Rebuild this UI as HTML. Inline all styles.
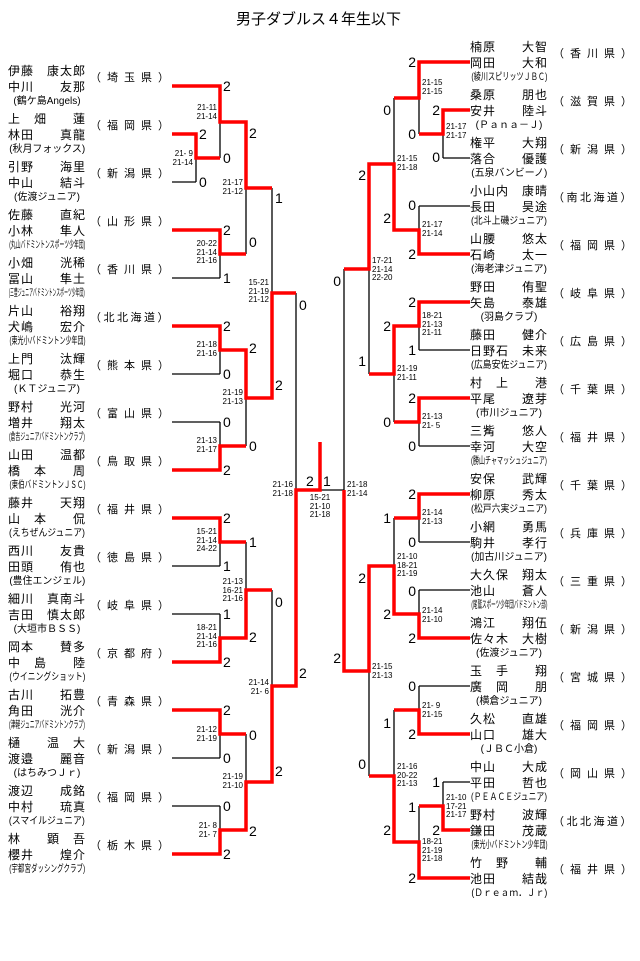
<!DOCTYPE html>
<html><head><meta charset="utf-8">
<style>
*{margin:0;padding:0;box-sizing:border-box}
body{width:640px;height:961px;background:#fff;position:relative;overflow:hidden;font-family:"Liberation Sans","Noto Sans CJK JP",sans-serif;color:#000}
svg{position:absolute;left:0;top:0}
.ttl{position:absolute;left:236px;top:10px;font-size:15px;line-height:20px;white-space:nowrap}
.e{position:absolute;width:78px}
.n{height:16px;line-height:16px;font-size:12px;letter-spacing:1px;white-space:nowrap}
.c{height:14px;line-height:14px;font-size:10px;display:flex;justify-content:center;white-space:nowrap;width:78px}
.c span{display:inline-block;transform-origin:center}
.p{position:absolute;top:8px;height:14px;line-height:14px;font-size:11px;white-space:nowrap;letter-spacing:6px}
.p.w{letter-spacing:2.5px}
.L .p{left:82px}
.R .p{left:83px}
.s{position:absolute;font-size:14px;line-height:14px;width:10px}
.sl{text-align:left}
.sr{text-align:right}
.t{position:absolute;font-size:8px;line-height:8.5px;white-space:nowrap;width:40px}
.tl{text-align:right}
.tr{text-align:left}
</style></head><body>
<div class="ttl">男子ダブルス４年生以下</div>
<svg width="640" height="961" viewBox="0 0 640 961">
<g stroke="#000" stroke-width="1.3" fill="none">
<path d="M196 134V182M220 86V158M220 230V278M246 122V254M220 326V374M220 422V470M246 350V446M272 188V398M220 518V566M220 614V662M246 542V638M220 710V758M220 806V854M246 734V830M272 590V782M296 293V686"/>
<path d="M443 110V158M419 62V134M419 206V254M394 98V230M419 302V350M419 398V446M394 326V422M369 164V374M419 494V542M419 590V638M394 518V614M419 686V734M443 782V830M419 806V878M394 710V842M369 566V776M344 269V671"/>
<path d="M172 182H196M172 278H220M172 374H220M172 422H220M172 566H220M172 614H220M172 758H220M172 806H220"/>
<path d="M443 158H470M419 206H470M419 350H470M419 446H470M419 542H470M419 590H470M419 686H470M443 782H470M320 490H344"/>
</g>
<g stroke="#ff0000" stroke-width="3.5" fill="none" stroke-linejoin="miter" stroke-linecap="butt">
<path d="M172 86H220V122H246V188H272"/>
<path d="M172 134H196V158H220"/>
<path d="M172 230H220V254H246"/>
<path d="M172 326H220V350H246V398H272V293H296"/>
<path d="M172 470H220V446H246"/>
<path d="M172 518H220V542H246"/>
<path d="M172 662H220V638H246V590H272"/>
<path d="M172 710H220V734H246"/>
<path d="M172 854H220V830H246V782H272V686H296V490H320V442"/>
<path d="M470 62H419V98H394"/>
<path d="M470 110H443V134H419"/>
<path d="M470 254H419V230H394V164H369V269H344"/>
<path d="M470 302H419V326H394V374H369"/>
<path d="M470 398H419V422H394"/>
<path d="M470 494H419V518H394"/>
<path d="M470 638H419V614H394V566H369V671H344V490"/>
<path d="M470 734H419V710H394"/>
<path d="M470 830H443V806H419"/>
<path d="M470 878H419V842H394V776H369"/>
</g>
</svg>

<!-- Left entries -->
<div class="e L" style="left:8px;top:63px"><div class="n">伊藤　康太郎</div><div class="n">中川　　友那</div><div class="c"><span>(鶴ケ島Angels)</span></div><div class="p">（埼玉県）</div></div>
<div class="e L" style="left:8px;top:111px"><div class="n">上　畑　　蓮</div><div class="n">林田　　真龍</div><div class="c"><span>(秋月フォックス)</span></div><div class="p">（福岡県）</div></div>
<div class="e L" style="left:8px;top:159px"><div class="n">引野　　海里</div><div class="n">中山　　結斗</div><div class="c"><span>(佐渡ジュニア)</span></div><div class="p">（新潟県）</div></div>
<div class="e L" style="left:8px;top:207px"><div class="n">佐藤　　直紀</div><div class="n">小林　　隼人</div><div class="c"><span>(丸山バドミントンスポーツ少年団)</span></div><div class="p">（山形県）</div></div>
<div class="e L" style="left:8px;top:255px"><div class="n">小畑　　洸稀</div><div class="n">冨山　　隼土</div><div class="c"><span>(三豊ジュニアバドミントンスポーツ少年団)</span></div><div class="p">（香川県）</div></div>
<div class="e L" style="left:8px;top:303px"><div class="n">片山　　裕翔</div><div class="n">犬嶋　　宏介</div><div class="c"><span>(東光小バドミントン少年団)</span></div><div class="p w">（北北海道）</div></div>
<div class="e L" style="left:8px;top:351px"><div class="n">上門　　汰輝</div><div class="n">堀口　　恭生</div><div class="c"><span>(ＫＴジュニア)</span></div><div class="p">（熊本県）</div></div>
<div class="e L" style="left:8px;top:399px"><div class="n">野村　　光河</div><div class="n">増井　　翔太</div><div class="c"><span>(倉吉ジュニアバドミントンクラブ)</span></div><div class="p">（富山県）</div></div>
<div class="e L" style="left:8px;top:447px"><div class="n">山田　　温都</div><div class="n">橋　本　　周</div><div class="c"><span>(東伯バドミントンＪＳＣ)</span></div><div class="p">（鳥取県）</div></div>
<div class="e L" style="left:8px;top:495px"><div class="n">藤井　　天翔</div><div class="n">山　本　　侃</div><div class="c"><span>(えちぜんジュニア)</span></div><div class="p">（福井県）</div></div>
<div class="e L" style="left:8px;top:543px"><div class="n">西川　　友貴</div><div class="n">田頭　　侑也</div><div class="c"><span>(豊住エンジェル)</span></div><div class="p">（徳島県）</div></div>
<div class="e L" style="left:8px;top:591px"><div class="n">細川　真南斗</div><div class="n">吉田　慎太郎</div><div class="c"><span>(大垣市ＢＳＳ)</span></div><div class="p">（岐阜県）</div></div>
<div class="e L" style="left:8px;top:639px"><div class="n">岡本　　賛多</div><div class="n">中　島　　陸</div><div class="c"><span>(ウイニングショット)</span></div><div class="p">（京都府）</div></div>
<div class="e L" style="left:8px;top:687px"><div class="n">古川　　拓豊</div><div class="n">角田　　洸介</div><div class="c"><span>(津軽ジュニアバドミントンクラブ)</span></div><div class="p">（青森県）</div></div>
<div class="e L" style="left:8px;top:735px"><div class="n">樋　　温　大</div><div class="n">渡邉　　麗音</div><div class="c"><span>(はちみつＪｒ)</span></div><div class="p">（新潟県）</div></div>
<div class="e L" style="left:8px;top:783px"><div class="n">渡辺　　成銘</div><div class="n">中村　　琉真</div><div class="c"><span>(スマイルジュニア)</span></div><div class="p">（福岡県）</div></div>
<div class="e L" style="left:8px;top:831px"><div class="n">林　　顕　吾</div><div class="n">櫻井　　煌介</div><div class="c"><span>(宇都宮ダッシングクラブ)</span></div><div class="p">（栃木県）</div></div>

<!-- Right entries -->
<div class="e R" style="left:470px;top:39px"><div class="n">楠原　　大智</div><div class="n">岡田　　大和</div><div class="c"><span>(綾川スピリッツＪＢＣ)</span></div><div class="p">（香川県）</div></div>
<div class="e R" style="left:470px;top:87px"><div class="n">桑原　　朋也</div><div class="n">安井　　陸斗</div><div class="c"><span>(Ｐａｎａ－Ｊ)</span></div><div class="p">（滋賀県）</div></div>
<div class="e R" style="left:470px;top:135px"><div class="n">権平　　大翔</div><div class="n">落合　　優護</div><div class="c"><span>(五泉バンビーノ)</span></div><div class="p">（新潟県）</div></div>
<div class="e R" style="left:470px;top:183px"><div class="n">小山内　康晴</div><div class="n">長田　　昊途</div><div class="c"><span>(北斗上磯ジュニア)</span></div><div class="p w">（南北海道）</div></div>
<div class="e R" style="left:470px;top:231px"><div class="n">山腰　　悠太</div><div class="n">石崎　　太一</div><div class="c"><span>(海老津ジュニア)</span></div><div class="p">（福岡県）</div></div>
<div class="e R" style="left:470px;top:279px"><div class="n">野田　　侑聖</div><div class="n">矢島　　泰雄</div><div class="c"><span>(羽島クラブ)</span></div><div class="p">（岐阜県）</div></div>
<div class="e R" style="left:470px;top:327px"><div class="n">藤田　　健介</div><div class="n">日野石　未来</div><div class="c"><span>(広島安佐ジュニア)</span></div><div class="p">（広島県）</div></div>
<div class="e R" style="left:470px;top:375px"><div class="n">村　上　　港</div><div class="n">平尾　　遼芽</div><div class="c"><span>(市川ジュニア)</span></div><div class="p">（千葉県）</div></div>
<div class="e R" style="left:470px;top:423px"><div class="n">三觜　　悠人</div><div class="n">幸河　　大空</div><div class="c"><span>(勝山チャマッシュジュニア)</span></div><div class="p">（福井県）</div></div>
<div class="e R" style="left:470px;top:471px"><div class="n">安保　　武輝</div><div class="n">柳原　　秀太</div><div class="c"><span>(松戸六実ジュニア)</span></div><div class="p">（千葉県）</div></div>
<div class="e R" style="left:470px;top:519px"><div class="n">小網　　勇馬</div><div class="n">駒井　　孝行</div><div class="c"><span>(加古川ジュニア)</span></div><div class="p">（兵庫県）</div></div>
<div class="e R" style="left:470px;top:567px"><div class="n">大久保　翔太</div><div class="n">池山　　蒼人</div><div class="c"><span>(尾鷲スポーツ少年団バドミントン部)</span></div><div class="p">（三重県）</div></div>
<div class="e R" style="left:470px;top:615px"><div class="n">鴻江　　翔伍</div><div class="n">佐々木　大樹</div><div class="c"><span>(佐渡ジュニア)</span></div><div class="p">（新潟県）</div></div>
<div class="e R" style="left:470px;top:663px"><div class="n">玉　手　　翔</div><div class="n">廣　岡　　朋</div><div class="c"><span>(横倉ジュニア)</span></div><div class="p">（宮城県）</div></div>
<div class="e R" style="left:470px;top:711px"><div class="n">久松　　直雄</div><div class="n">山口　　雄大</div><div class="c"><span>(ＪＢＣ小倉)</span></div><div class="p">（福岡県）</div></div>
<div class="e R" style="left:470px;top:759px"><div class="n">中山　　大成</div><div class="n">平田　　哲也</div><div class="c"><span>(ＰＥＡＣＥジュニア)</span></div><div class="p">（岡山県）</div></div>
<div class="e R" style="left:470px;top:807px"><div class="n">野村　　波輝</div><div class="n">鎌田　　茂蔵</div><div class="c"><span>(東光小バドミントン少年団)</span></div><div class="p w">（北北海道）</div></div>
<div class="e R" style="left:470px;top:855px"><div class="n">竹　野　　輔</div><div class="n">池田　　結哉</div><div class="c"><span>(Ｄｒｅａｍ．Ｊｒ)</span></div><div class="p">（福井県）</div></div>

<!-- Left labels -->
<div class="s sl" style="left:199px;top:127px">2</div><div class="s sl" style="left:199px;top:175px">0</div>
<div class="s sl" style="left:223px;top:79px">2</div><div class="s sl" style="left:223px;top:151px">0</div>
<div class="s sl" style="left:223px;top:223px">2</div><div class="s sl" style="left:223px;top:271px">1</div>
<div class="s sl" style="left:249px;top:126px">2</div><div class="s sl" style="left:249px;top:235px">0</div>
<div class="s sl" style="left:223px;top:319px">2</div><div class="s sl" style="left:223px;top:367px">0</div>
<div class="s sl" style="left:223px;top:415px">0</div><div class="s sl" style="left:223px;top:463px">2</div>
<div class="s sl" style="left:249px;top:341px">2</div><div class="s sl" style="left:249px;top:439px">0</div>
<div class="s sl" style="left:275px;top:191px">1</div><div class="s sl" style="left:275px;top:378px">2</div>
<div class="s sl" style="left:223px;top:511px">2</div><div class="s sl" style="left:223px;top:559px">1</div>
<div class="s sl" style="left:223px;top:607px">1</div><div class="s sl" style="left:223px;top:655px">2</div>
<div class="s sl" style="left:249px;top:535px">1</div><div class="s sl" style="left:249px;top:630px">2</div>
<div class="s sl" style="left:223px;top:703px">2</div><div class="s sl" style="left:223px;top:751px">0</div>
<div class="s sl" style="left:223px;top:799px">0</div><div class="s sl" style="left:223px;top:847px">2</div>
<div class="s sl" style="left:249px;top:728px">0</div><div class="s sl" style="left:249px;top:824px">2</div>
<div class="s sl" style="left:275px;top:595px">0</div><div class="s sl" style="left:275px;top:764px">2</div>
<div class="s sl" style="left:299px;top:298px">0</div><div class="s sl" style="left:299px;top:666px">2</div>
<div class="s sl" style="left:306px;top:474px">2</div><div class="s sl" style="left:323px;top:474px">1</div>

<!-- Right labels -->
<div class="s sr" style="left:430px;top:103px">2</div><div class="s sr" style="left:430px;top:150px">0</div>
<div class="s sr" style="left:406px;top:55px">2</div><div class="s sr" style="left:406px;top:127px">0</div>
<div class="s sr" style="left:406px;top:198px">0</div><div class="s sr" style="left:406px;top:247px">2</div>
<div class="s sr" style="left:381px;top:103px">0</div><div class="s sr" style="left:381px;top:211px">2</div>
<div class="s sr" style="left:406px;top:295px">2</div><div class="s sr" style="left:406px;top:343px">1</div>
<div class="s sr" style="left:406px;top:391px">2</div><div class="s sr" style="left:406px;top:439px">0</div>
<div class="s sr" style="left:381px;top:319px">2</div><div class="s sr" style="left:381px;top:415px">0</div>
<div class="s sr" style="left:356px;top:168px">2</div><div class="s sr" style="left:356px;top:354px">1</div>
<div class="s sr" style="left:406px;top:487px">2</div><div class="s sr" style="left:406px;top:535px">0</div>
<div class="s sr" style="left:406px;top:584px">0</div><div class="s sr" style="left:406px;top:631px">2</div>
<div class="s sr" style="left:381px;top:511px">1</div><div class="s sr" style="left:381px;top:607px">2</div>
<div class="s sr" style="left:406px;top:679px">0</div><div class="s sr" style="left:406px;top:727px">2</div>
<div class="s sr" style="left:430px;top:775px">1</div><div class="s sr" style="left:430px;top:823px">2</div>
<div class="s sr" style="left:406px;top:800px">1</div><div class="s sr" style="left:406px;top:871px">2</div>
<div class="s sr" style="left:381px;top:716px">1</div><div class="s sr" style="left:381px;top:823px">2</div>
<div class="s sr" style="left:356px;top:571px">2</div><div class="s sr" style="left:356px;top:757px">0</div>
<div class="s sr" style="left:331px;top:274px">0</div><div class="s sr" style="left:331px;top:651px">2</div>

<!-- Left scores -->
<div class="t tl" style="left:153px;top:150px">21- 9<br>21-14</div>
<div class="t tl" style="left:177px;top:104px">21-11<br>21-14</div>
<div class="t tl" style="left:177px;top:240px">20-22<br>21-14<br>21-16</div>
<div class="t tl" style="left:203px;top:179px">21-17<br>21-12</div>
<div class="t tl" style="left:177px;top:341px">21-18<br>21-16</div>
<div class="t tl" style="left:177px;top:437px">21-13<br>21-17</div>
<div class="t tl" style="left:203px;top:389px">21-19<br>21-13</div>
<div class="t tl" style="left:229px;top:279px">15-21<br>21-19<br>21-12</div>
<div class="t tl" style="left:177px;top:528px">15-21<br>21-14<br>24-22</div>
<div class="t tl" style="left:177px;top:624px">18-21<br>21-14<br>21-16</div>
<div class="t tl" style="left:203px;top:578px">21-13<br>16-21<br>21-16</div>
<div class="t tl" style="left:177px;top:726px">21-12<br>21-19</div>
<div class="t tl" style="left:177px;top:822px">21- 8<br>21- 7</div>
<div class="t tl" style="left:203px;top:773px">21-19<br>21-10</div>
<div class="t tl" style="left:229px;top:679px">21-14<br>21- 6</div>
<div class="t tl" style="left:253px;top:481px">21-16<br>21-18</div>
<div class="t" style="left:300px;top:494px;text-align:center">15-21<br>21-10<br>21-18</div>

<!-- Right scores -->
<div class="t tr" style="left:446px;top:123px">21-17<br>21-17</div>
<div class="t tr" style="left:422px;top:79px">21-15<br>21-15</div>
<div class="t tr" style="left:422px;top:221px">21-17<br>21-14</div>
<div class="t tr" style="left:397px;top:155px">21-15<br>21-18</div>
<div class="t tr" style="left:422px;top:312px">18-21<br>21-13<br>21-11</div>
<div class="t tr" style="left:422px;top:413px">21-13<br>21- 5</div>
<div class="t tr" style="left:397px;top:365px">21-19<br>21-11</div>
<div class="t tr" style="left:372px;top:257px">17-21<br>21-14<br>22-20</div>
<div class="t tr" style="left:422px;top:509px">21-14<br>21-13</div>
<div class="t tr" style="left:422px;top:607px">21-14<br>21-10</div>
<div class="t tr" style="left:397px;top:553px">21-10<br>18-21<br>21-19</div>
<div class="t tr" style="left:422px;top:702px">21- 9<br>21-15</div>
<div class="t tr" style="left:446px;top:794px">21-10<br>17-21<br>21-17</div>
<div class="t tr" style="left:422px;top:838px">18-21<br>21-19<br>21-18</div>
<div class="t tr" style="left:397px;top:763px">21-16<br>20-22<br>21-13</div>
<div class="t tr" style="left:372px;top:663px">21-15<br>21-13</div>
<div class="t tr" style="left:347px;top:481px">21-18<br>21-14</div>

<script>
document.querySelectorAll('.c span').forEach(function(s){
  var w=s.getBoundingClientRect().width;
  if(w>76){s.style.transform='scaleX('+(76/w)+')';}
});
</script>
</body></html>
